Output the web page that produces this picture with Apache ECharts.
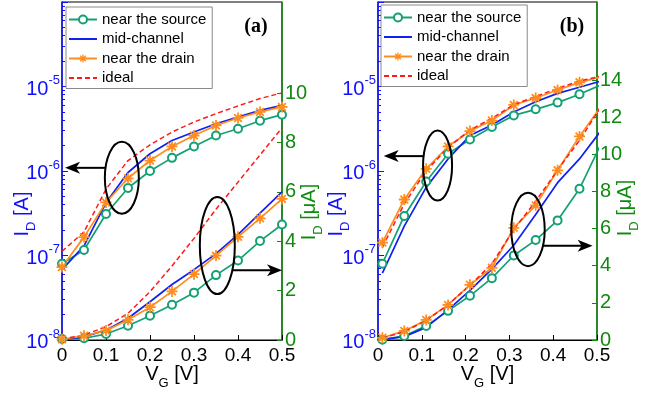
<!DOCTYPE html>
<html>
<head>
<meta charset="utf-8">
<script src="https://cdn.jsdelivr.net/npm/echarts@6/dist/echarts.min.js"></script>
<style>
  html, body { margin: 0; padding: 0; background: #fff; }
  #main { width: 657px; height: 395px; }
</style>
</head>
<body>
<div id="main"></div>
<script>
// gate voltage samples
var vgA = [0, 0.05, 0.1, 0.15, 0.2, 0.25, 0.3, 0.35, 0.4, 0.45, 0.5];
var vgB = [0.01, 0.06, 0.11, 0.16, 0.21, 0.26, 0.31, 0.36, 0.41, 0.46, 0.51];

// (a) log scale, I_D [A]
var srcLogA   = [8.0e-8, 1.16e-7, 3.1e-7, 6.3e-7, 1.0e-6, 1.43e-6, 1.95e-6, 2.63e-6, 3.16e-6, 3.94e-6, 4.64e-6];
var midLogA   = [6.8e-8, 1.3e-7, 4.2e-7, 9.6e-7, 1.6e-6, 2.3e-6, 2.89e-6, 3.63e-6, 4.36e-6, 5.22e-6, 5.98e-6];
var drainLogA = [7.3e-8, 1.65e-7, 4.24e-7, 8.2e-7, 1.33e-6, 1.95e-6, 2.63e-6, 3.46e-6, 4.24e-6, 5.0e-6, 5.73e-6];
var idealLogA = [1.12e-7, 1.9e-7, 6.1e-7, 1.33e-6, 2.04e-6, 2.89e-6, 3.8e-6, 4.77e-6, 5.89e-6, 7.2e-6, 8.4e-6];
// (a) linear scale, I_D [uA]
var srcLinA   = [0.04, 0.07, 0.24, 0.58, 0.98, 1.43, 1.92, 2.63, 3.22, 4.01, 4.68];
var midLinA   = [0.02, 0.13, 0.4, 0.88, 1.55, 2.25, 2.85, 3.5, 4.27, 5.14, 6.0];
var drainLinA = [0.03, 0.17, 0.38, 0.82, 1.33, 1.97, 2.67, 3.42, 4.18, 4.93, 5.72];
var idealLinA = [0.04, 0.2, 0.54, 1.08, 1.96, 3.0, 4.12, 5.3, 6.4, 7.5, 8.6];

// (b) log scale
var srcLogB   = [8.0e-8, 2.94e-7, 7.5e-7, 1.6e-6, 2.36e-6, 3.31e-6, 4.55e-6, 5.37e-6, 6.45e-6, 8.1e-6, 1.05e-5];
var midLogB   = [6.2e-8, 2.23e-7, 6.4e-7, 1.39e-6, 2.63e-6, 3.5e-6, 5.0e-6, 6.6e-6, 8.3e-6, 9.8e-6, 1.16e-5];
var drainLogB = [1.42e-7, 4.6e-7, 1.06e-6, 1.95e-6, 2.97e-6, 3.95e-6, 6.05e-6, 7.3e-6, 9.1e-6, 1.12e-5, 1.3e-5];
var idealLogB = [1.25e-7, 4.1e-7, 1.0e-6, 1.9e-6, 3.05e-6, 4.2e-6, 6.1e-6, 7.6e-6, 9.5e-6, 1.16e-5, 1.33e-5];
// (b) linear scale
var srcLinB   = [0.02, 0.22, 0.76, 1.57, 2.38, 3.33, 4.55, 5.38, 6.44, 8.14, 10.6];
var midLinB   = [0.02, 0.18, 0.68, 1.62, 2.67, 3.82, 5.1, 6.76, 8.47, 9.75, 11.3];
var drainLinB = [0.12, 0.49, 1.08, 1.89, 2.97, 3.89, 6.04, 7.25, 9.14, 10.96, 12.6];
var idealLinB = [0.1, 0.45, 1.05, 1.9, 2.95, 4.1, 5.95, 7.47, 9.15, 10.75, 12.6];

var names = ['near the source', 'mid-channel', 'near the drain', 'ideal'];
var xTicks = [0, 0.1, 0.2, 0.3, 0.4, 0.5];
var rightTicksA = [0, 2, 4, 6, 8, 10];
var rightTicksB = [0, 2, 4, 6, 8, 10, 12, 14];

var FONT = 'Liberation Sans';
var BLUE_AX = '#1010ff';
var GREEN_AX = '#0f8a0f';
var colors = ['#14a075', '#1020f0', '#ff8c1e', '#ff1a1a'];
var star = 'path://M0 4.2H10V5.8H0Z M4.2 0H5.8V10H4.2Z M2.07 0.93L9.07 7.93L7.93 9.07L0.93 2.07Z M9.07 2.07L2.07 9.07L0.93 7.93L7.93 0.93Z';

var chart = echarts.init(document.getElementById('main'));

function pairs(xs, ys) {
  return xs.map(function (x, i) { return [x, ys[i]]; });
}

function mk(k, xs, ys, xi, yi) {
  var s = {
    name: names[k], type: 'line', xAxisIndex: xi, yAxisIndex: yi,
    data: pairs(xs, ys), clip: true,
    lineStyle: { color: colors[k], width: 1.7 },
    itemStyle: { color: colors[k] },
    symbol: 'none', animation: false
  };
  if (k === 0) {
    s.symbol = 'emptyCircle'; s.symbolSize = 8;
    s.itemStyle = { color: colors[k], borderColor: colors[k], borderWidth: 1.3 };
  } else if (k === 2) {
    s.symbol = star; s.symbolSize = 11;
  } else if (k === 3) {
    s.lineStyle.type = [5, 3];
    s.lineStyle.width = 1.5;
  }
  return s;
}

var series = [];
[[srcLogA, midLogA, drainLogA, idealLogA], [srcLinA, midLinA, drainLinA, idealLinA]].forEach(function (set, j) {
  set.forEach(function (ys, k) { series.push(mk(k, vgA, ys, 0, j)); });
});
[[srcLogB, midLogB, drainLogB, idealLogB], [srcLinB, midLinB, drainLinB, idealLinB]].forEach(function (set, j) {
  set.forEach(function (ys, k) { series.push(mk(k, vgB, ys, 1, 2 + j)); });
});

// main text on top, subscript pushed to the bottom of a taller line
var subRich = function (color) {
  return {
    n: { fontSize: 20, fontFamily: FONT, color: color, lineHeight: 20, verticalAlign: 'top' },
    d: { fontSize: 13, fontFamily: FONT, color: color, lineHeight: 26, verticalAlign: 'bottom' }
  };
};

function xAx(g) {
  return {
    gridIndex: g, type: 'value', min: 0, max: 0.5,
    axisLine: { lineStyle: { color: '#000', width: 1 } },
    axisTick: { inside: true, length: 5, customValues: xTicks, lineStyle: { color: '#000' } },
    axisLabel: { customValues: xTicks, color: '#000', fontSize: 19, fontFamily: FONT, margin: 6 },
    splitLine: { show: false },
    name: '{n|V}{d|G}{n| [V]}', nameLocation: 'middle', nameGap: 24, nameMoveOverlap: false,
    nameTextStyle: { rich: subRich('#000') }
  };
}

function logAx(g, gap) {
  return {
    gridIndex: g, type: 'log', logBase: 10, min: 1e-8, max: 1e-4, position: 'left',
    axisLine: { show: true, lineStyle: { color: BLUE_AX, width: 1.5 } },
    axisTick: { inside: true, length: 6, lineStyle: { color: BLUE_AX } },
    minorTick: { show: true, splitNumber: 9, length: 3, lineStyle: { color: BLUE_AX } },
    splitLine: { show: false },
    axisLabel: {
      margin: 2,
      formatter: function (v) {
        var e = Math.round(Math.log(v) / Math.LN10);
        if (e > -5) return '';
        return '{b|10}{s|' + e + '}';
      },
      rich: {
        b: { fontSize: 20, fontFamily: FONT, color: BLUE_AX, lineHeight: 25, verticalAlign: 'bottom' },
        s: { fontSize: 13, fontFamily: FONT, color: BLUE_AX, verticalAlign: 'top' }
      }
    },
    name: '{n|I}{d|D}{n| [A]}', nameLocation: 'middle', nameRotate: 90, nameGap: gap, nameMoveOverlap: false,
    nameTextStyle: { padding: [0, 86, 0, 0], rich: subRich(BLUE_AX) }
  };
}

function linAx(g, max, ticks, gap, shift) {
  return {
    gridIndex: g, type: 'value', min: 0, max: max, position: 'right',
    axisLine: { show: true, lineStyle: { color: GREEN_AX, width: 1.5 } },
    axisTick: { inside: true, length: 5, customValues: ticks, lineStyle: { color: GREEN_AX } },
    axisLabel: { customValues: ticks, color: GREEN_AX, fontSize: 20, fontFamily: FONT, margin: 3 },
    splitLine: { show: false },
    name: '{n|I}{d|D}{n| [\u03bcA]}', nameLocation: 'middle', nameRotate: 90, nameGap: gap, nameMoveOverlap: false,
    nameTextStyle: { padding: [0, shift, 0, 0], rich: subRich(GREEN_AX) }
  };
}

function legendAt(left, top) {
  return {
    data: names.map(function (n, k) {
      // plain lines carry no marker in the key
      return (k === 1 || k === 3) ? { name: n, itemStyle: { opacity: 0 } } : { name: n };
    }),
    left: left, top: top, orient: 'vertical',
    itemWidth: 28, itemHeight: 10, itemGap: 4.5,
    padding: [5, 6, 3, 2],
    borderColor: '#8a8a8a', borderWidth: 1, borderRadius: 0, backgroundColor: '#fff',
    textStyle: { fontSize: 15, fontFamily: FONT, color: '#000' }
  };
}

var option = {
  backgroundColor: '#fff',
  animation: false,
  grid: [
    { left: 62, right: 375, top: 2, bottom: 55, show: true, borderColor: '#000', borderWidth: 1, backgroundColor: 'transparent' },
    { left: 378, right: 60, top: 2, bottom: 55, show: true, borderColor: '#000', borderWidth: 1, backgroundColor: 'transparent' }
  ],
  legend: [legendAt(66, 7), legendAt(381, 5)],
  xAxis: [xAx(0), xAx(1)],
  yAxis: [logAx(0, 24), linAx(0, 13.7, rightTicksA, 17, 82), logAx(1, 26), linAx(1, 18.2, rightTicksB, 18, 74)],
  series: series
};

chart.setOption(option);

// annotation ellipses + arrows, anchored in data space
var anns = [
  { xa: 0, ya: 0, c: [0.136, 8.3e-7], rx: 17, ry: 36, ay: 1.09e-6, tip: 0.007, dir: -1 },
  { xa: 0, ya: 1, c: [0.353, 3.83], rx: 17.5, ry: 48.5, ay: 2.83, tip: 0.5, dir: 1 },
  { xa: 1, ya: 2, c: [0.136, 1.16e-6], rx: 14.5, ry: 35, ay: 1.5e-6, tip: 0.013, dir: -1 },
  { xa: 1, ya: 3, c: [0.3425, 5.95], rx: 16.7, ry: 36.7, ay: 5.08, tip: 0.49, dir: 1 }
];

var gfx = [
  { type: 'text', x: 256, y: 27, style: { text: '(a)', font: 'bold 20px "Liberation Serif"', fill: '#000', align: 'center', verticalAlign: 'middle' } },
  { type: 'text', x: 572, y: 27, style: { text: '(b)', font: 'bold 20px "Liberation Serif"', fill: '#000', align: 'center', verticalAlign: 'middle' } }
];
anns.forEach(function (a) {
  var cx = chart.convertToPixel({ xAxisIndex: a.xa }, a.c[0]);
  var cy = chart.convertToPixel({ yAxisIndex: a.ya }, a.c[1]);
  var y = chart.convertToPixel({ yAxisIndex: a.ya }, a.ay);
  var tx = chart.convertToPixel({ xAxisIndex: a.xa }, a.tip);
  var dy = (y - cy) / a.ry;
  var sx = cx + a.dir * a.rx * Math.sqrt(Math.max(0, 1 - dy * dy));
  var d = a.dir;
  gfx.push({ type: 'ellipse', shape: { cx: cx, cy: cy, rx: a.rx, ry: a.ry }, style: { fill: null, stroke: '#000', lineWidth: 2 }, z: 100 });
  gfx.push({ type: 'line', shape: { x1: sx, y1: y, x2: tx - d * 10, y2: y }, style: { stroke: '#000', lineWidth: 2 }, z: 100 });
  gfx.push({ type: 'polygon', shape: { points: [[tx, y], [tx - d * 15, y - 6], [tx - d * 11, y], [tx - d * 15, y + 6]] }, style: { fill: '#000' }, z: 100 });
});
chart.setOption({ graphic: gfx });

window.addEventListener('resize', function () {
  chart.resize();
});
</script>
</body>
</html>
